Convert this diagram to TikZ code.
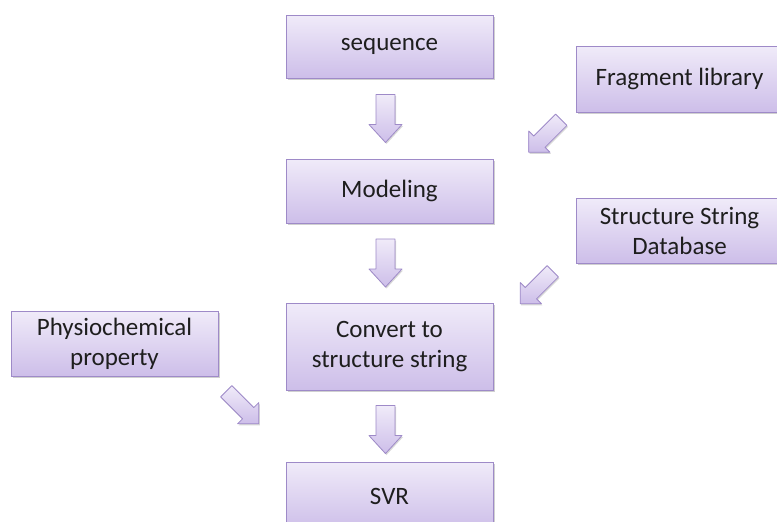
\documentclass[tikz,border=0pt]{standalone}
\usepackage{fontspec}
\setmainfont{Carlito}
\usetikzlibrary{shadows,calc}
\definecolor{boxtop}{RGB}{240,235,249}
\definecolor{boxbot}{RGB}{205,190,233}
\definecolor{boxline}{RGB}{158,138,200}
\definecolor{txt}{RGB}{30,30,30}
\tikzset{
  box/.style={rectangle, draw=boxline, line width=0.9pt, top color=boxtop, bottom color=boxbot,
    minimum width=207pt, inner sep=2pt, align=center, text=txt,
    font=\fontsize{25}{30}\selectfont,
    drop shadow={shadow xshift=1.5pt, shadow yshift=-2pt, opacity=0.3, fill=black!60}},
  blockarrow/.style={draw=boxline, line width=0.8pt, top color=boxtop, bottom color=boxbot,
    line join=round,
    drop shadow={shadow xshift=1pt, shadow yshift=-1.5pt, opacity=0.25, fill=black!60}}
}
% #1 centre, #2 angle, #3 length, #4 head width, #5 shaft width, #6 head length
\newcommand{\myblockarrow}[6]{%
  \begin{scope}[shift={#1}, rotate=#2]
    \draw[blockarrow] (-#3/2,-#5/2) -- (#3/2-#6,-#5/2) -- (#3/2-#6,-#4/2) -- (#3/2,0)
      -- (#3/2-#6,#4/2) -- (#3/2-#6,#5/2) -- (-#3/2,#5/2) -- cycle;
  \end{scope}}
\begin{document}
\begin{tikzpicture}[x=1pt,y=-1pt]
\useasboundingbox[fill=white] (0,0) rectangle (777,522);
\node[box, minimum height=63pt] (seq) at (389.5,46.5) {sequence};
\node[box, minimum height=64pt] (mod) at (389.5,191) {Modeling};
\node[box, minimum height=87pt] (conv) at (389.5,346.5) {Convert to\\structure string};
\node[box, minimum height=68pt] (svr) at (389.5,496) {SVR};
\node[box, minimum height=66pt] (frag) at (679.5,79) {Fragment library};
\node[box, minimum height=65pt] (sdb) at (679.5,230.5) {Structure String\\Database};
\node[box, minimum height=65pt] (phys) at (114.5,343.5) {Physiochemical\\property};

\coordinate (c1) at ($(seq.south)!0.5!(mod.north)+(-4,0)$);
\coordinate (c2) at ($(mod.south)!0.5!(conv.north)+(-4,0)$);
\coordinate (c3) at ($(conv.south)!0.55!(svr.north)+(-4,0)$);
\coordinate (c4) at (545,136);
\coordinate (c5) at (536.5,287.5);
\coordinate (c6) at (242.5,407.5);
\myblockarrow{(c1)}{-90}{48}{33}{19}{18}
\myblockarrow{(c2)}{-90}{48}{33}{19}{18}
\myblockarrow{(c3)}{-90}{48}{33}{19}{18}
\myblockarrow{(c4)}{225}{46}{30}{16}{15}
\myblockarrow{(c5)}{225}{46}{30}{16}{15}
\myblockarrow{(c6)}{-45}{46}{30}{16}{15}
\end{tikzpicture}
\end{document}
